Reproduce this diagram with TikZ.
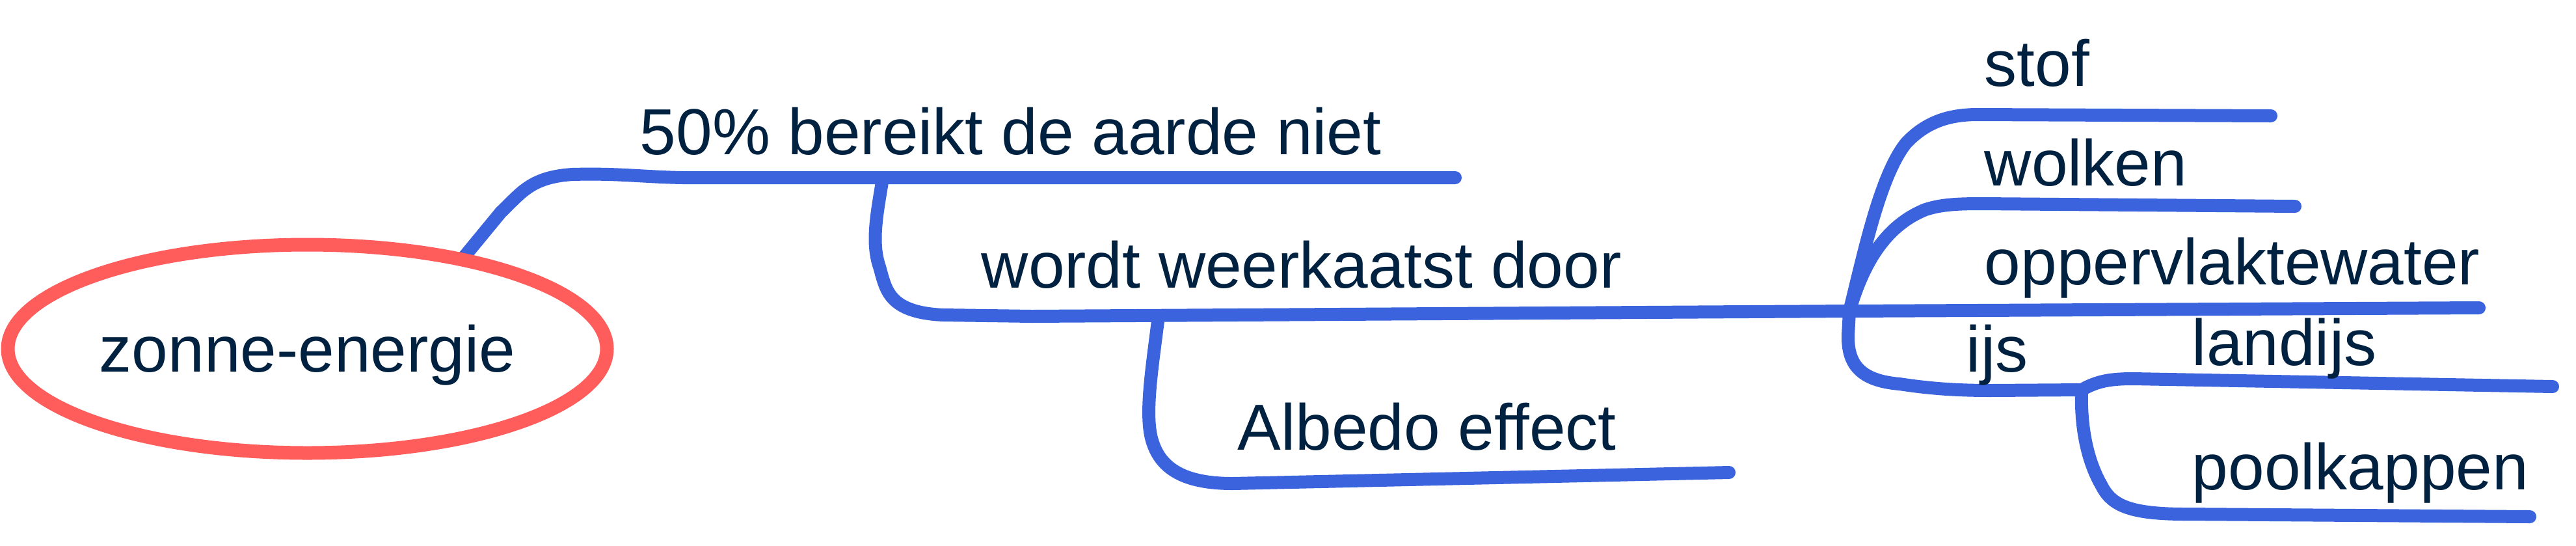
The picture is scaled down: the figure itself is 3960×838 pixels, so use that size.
\documentclass[tikz,border=0pt]{standalone}
\usepackage{fontspec}
\setmainfont{Liberation Sans}
\usetikzlibrary{shapes.geometric,backgrounds}
\definecolor{linkblue}{RGB}{59,99,221}
\definecolor{rootred}{RGB}{255,92,92}
\definecolor{inkblue}{RGB}{0,33,64}
\begin{document}
\begin{tikzpicture}[x=0.25pt,y=-0.25pt,
  txt/.style={anchor=base west, inner sep=0pt, text=inkblue, font=\fontsize{25}{30}\selectfont},
  link/.style={draw=linkblue, line width=5pt, line cap=round, line join=round},
  rootnode/.style={ellipse, draw=rootred, line width=5.25pt, fill=white,
    minimum width=230.25pt, minimum height=80pt, inner sep=0pt, outer sep=0pt,
    text=inkblue, font=\fontsize{25}{30}\selectfont, text height=17.5pt, text depth=0pt}]
\useasboundingbox (0,0) rectangle (3960,838);

% nodes
\node[rootnode] (root) at (472.5,536) {zonne-energie};
\node[txt] (t50)   at (983,237)    {50\% bereikt de aarde niet};
\node[txt] (tweer) at (1508,442.5) {wordt weerkaatst door};
\node[txt] (talb)  at (1902,691)   {Albedo effect};
\node[txt] (tstof) at (3050,132.5) {stof};
\node[txt] (twolk) at (3050,285)   {wolken};
\node[txt] (topp)  at (3050,437)   {oppervlaktewater};
\node[txt] (tijs)  at (3022,571)   {ijs};
\node[txt] (tland) at (3369,561)   {landijs};
\node[txt] (tpool) at (3369,752.5) {poolkappen};

% junctions and line ends
\coordinate (e50)   at (2237,273);
\coordinate (j1)    at (1357,273);
\coordinate (j2)    at (1781,485);
\coordinate (j3)    at (2843,478);
\coordinate (eopp)  at (3811,473);
\coordinate (ealb)  at (2658,726);
\coordinate (estof) at (3491,178);
\coordinate (ewolk) at (3528,317);
\coordinate (j4)    at (3200,599);
\coordinate (eland) at (3924,594);
\coordinate (epool) at (3889,794);

\begin{pgfonlayer}{background}
\fill[white] (0,0) rectangle (3960,838);
\draw[link] (root.30) -- (770,326) .. controls (800,298) and (815,272) .. (880,268)
  .. controls (950,266) and (990,272) .. (1050,273) -- (e50);
\draw[link] (j1) .. controls (1350,320) and (1338,370) .. (1352,410)
  .. controls (1362,445) and (1365,480) .. (1450,484) -- (1586,486) -- (j3) -- (eopp);
\draw[link] (j2) .. controls (1772,560) and (1758,640) .. (1772,680)
  .. controls (1785,720) and (1820,743) .. (1895,743) -- (ealb);
\draw[link] (j3) .. controls (2865,390) and (2890,270) .. (2930,220)
  .. controls (2960,188) and (2995,176) .. (3040,176) -- (estof);
\draw[link] (j3) .. controls (2860,420) and (2890,350) .. (2960,322)
  .. controls (2985,314) and (3010,313) .. (3048,313) -- (ewolk);
\draw[link] (j3) -- (2841,515) .. controls (2840,560) and (2860,585) .. (2920,590)
  .. controls (2960,596) and (3000,600) .. (3060,600) -- (j4);
\draw[link] (j4) .. controls (3225,585) and (3245,582) .. (3280,582) -- (eland);
\draw[link] (j4) .. controls (3198,660) and (3210,710) .. (3230,745)
  .. controls (3245,775) and (3270,790) .. (3360,790) -- (epool);
\end{pgfonlayer}
\end{tikzpicture}
\end{document}
